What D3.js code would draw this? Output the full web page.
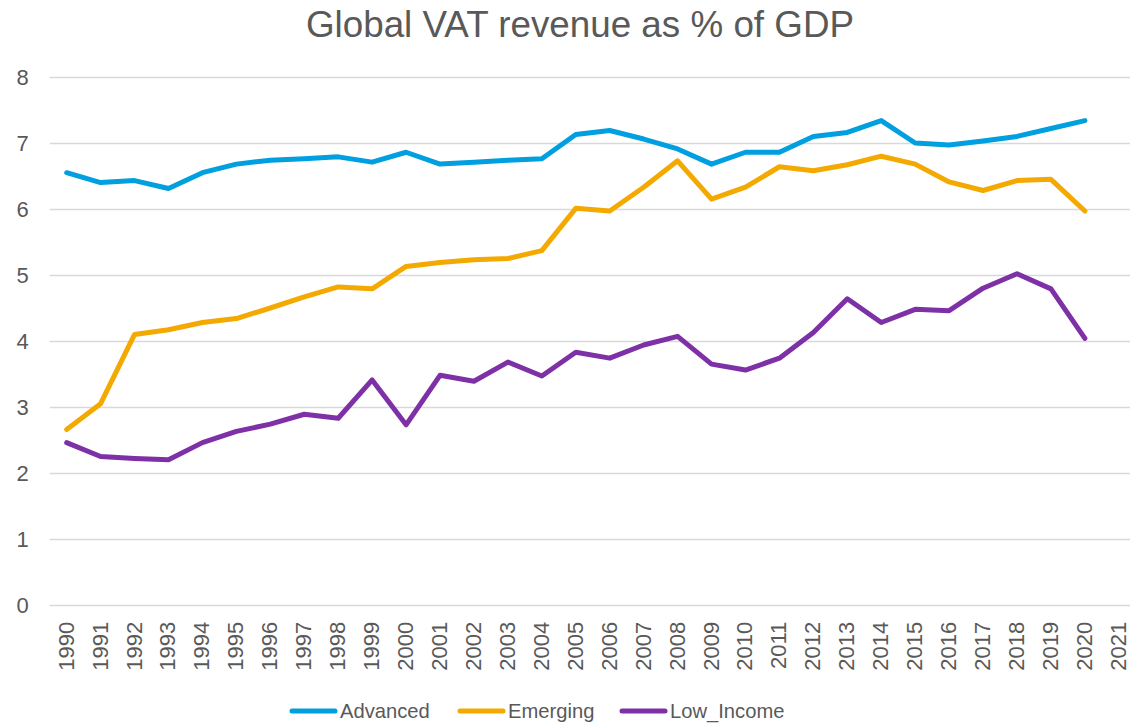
<!DOCTYPE html>
<html>
<head>
<meta charset="utf-8">
<script src="https://cdn.jsdelivr.net/npm/d3@7"></script>
<style>
  html, body { margin: 0; padding: 0; background: #fff; }
  svg { display: block; font-family: "Liberation Sans", Arial, sans-serif; }
</style>
</head>
<body>
<svg id="chart" width="1130" height="727"></svg>
<script>
const years = d3.range(1990, 2022).map(String);
const yTicks = [0, 1, 2, 3, 4, 5, 6, 7, 8];
const seriesNames = ["Advanced", "Emerging", "Low_Income"];
const advanced = [6.55, 6.40, 6.43, 6.31, 6.55, 6.68, 6.74, 6.76, 6.79, 6.71, 6.86,
  6.68, 6.71, 6.74, 6.76, 7.13, 7.19, 7.06, 6.91, 6.68, 6.86,
  6.86, 7.10, 7.16, 7.34, 7.00, 6.97, 7.03, 7.10, 7.22, 7.34];
const emerging = [2.66, 3.05, 4.10, 4.17, 4.28, 4.34, 4.50, 4.67, 4.82, 4.79, 5.13,
  5.19, 5.23, 5.25, 5.37, 6.01, 5.97, 6.33, 6.73, 6.15, 6.33,
  6.64, 6.58, 6.67, 6.80, 6.68, 6.41, 6.28, 6.43, 6.45, 5.97];
const lowIncome = [2.46, 2.25, 2.22, 2.20, 2.46, 2.63, 2.74, 2.89, 2.83, 3.41, 2.73,
  3.48, 3.39, 3.68, 3.47, 3.83, 3.74, 3.94, 4.07, 3.65, 3.56,
  3.74, 4.13, 4.64, 4.28, 4.48, 4.46, 4.80, 5.02, 4.79, 4.04];
const colors = ["#009FDF", "#F4A900", "#7E30A6"];

const svg = d3.select("#chart");
const plotLeft = 49.7, plotRight = 1135.8, plotTop = 77, plotBottom = 605;

const x = d3.scaleBand().domain(years).range([plotLeft, plotRight]);
const y = d3.scaleLinear().domain([0, 8]).range([plotBottom, plotTop]);

// Title
svg.append("text")
  .attr("x", 580).attr("y", 37)
  .attr("text-anchor", "middle")
  .attr("font-size", 36.8)
  .attr("fill", "#595959")
  .text("Global VAT revenue as % of GDP");

// Gridlines
const yAxis = d3.axisLeft(y).tickValues(yTicks).tickSize(-(plotRight - plotLeft)).tickPadding(21).tickFormat(d3.format("d"));
const gy = svg.append("g").attr("transform", `translate(${plotLeft},0)`).call(yAxis);
gy.select(".domain").remove();
gy.selectAll(".tick line").attr("stroke", "#D9D9D9").attr("stroke-width", 1.3);
gy.selectAll(".tick text").attr("fill", "#595959").attr("font-size", 22)
  .attr("font-family", "Liberation Sans, Arial, sans-serif");

// X axis labels
const xAxis = d3.axisBottom(x).tickSize(0).tickPadding(0);
const gx = svg.append("g").attr("transform", `translate(0,${plotBottom})`).call(xAxis);
gx.select(".domain").remove();
gx.selectAll(".tick text")
  .attr("fill", "#595959").attr("font-size", 22)
  .attr("font-family", "Liberation Sans, Arial, sans-serif")
  .attr("text-anchor", "end")
  .attr("transform", "translate(-0.7,16.7) rotate(-90)")
  .attr("x", 0).attr("y", 0).attr("dy", "0.35em");

// Lines
const allSeries = [advanced, emerging, lowIncome];
const line = d3.line()
  .x((d, i) => x(years[i]) + x.bandwidth() / 2)
  .y(d => y(d));
allSeries.forEach((s, k) => {
  svg.append("path")
    .datum(s)
    .attr("fill", "none")
    .attr("stroke", colors[k])
    .attr("stroke-width", 5)
    .attr("stroke-linejoin", "round")
    .attr("stroke-linecap", "round")
    .attr("d", line);
});

// Legend
const legendItems = [
  { x: 290, tx: 340 },
  { x: 458, tx: 508 },
  { x: 620, tx: 670 }
];
const ly = 711;
seriesNames.forEach((name, k) => {
  const g = svg.append("g");
  g.append("line")
    .attr("x1", legendItems[k].x + 2).attr("x2", legendItems[k].x + 45)
    .attr("y1", ly).attr("y2", ly)
    .attr("stroke", colors[k]).attr("stroke-width", 5)
    .attr("stroke-linecap", "round");
  g.append("text")
    .attr("x", legendItems[k].tx).attr("y", ly)
    .attr("dy", "0.35em")
    .attr("font-size", 20.2).attr("fill", "#595959")
    .text(name);
});
</script>
</body>
</html>
